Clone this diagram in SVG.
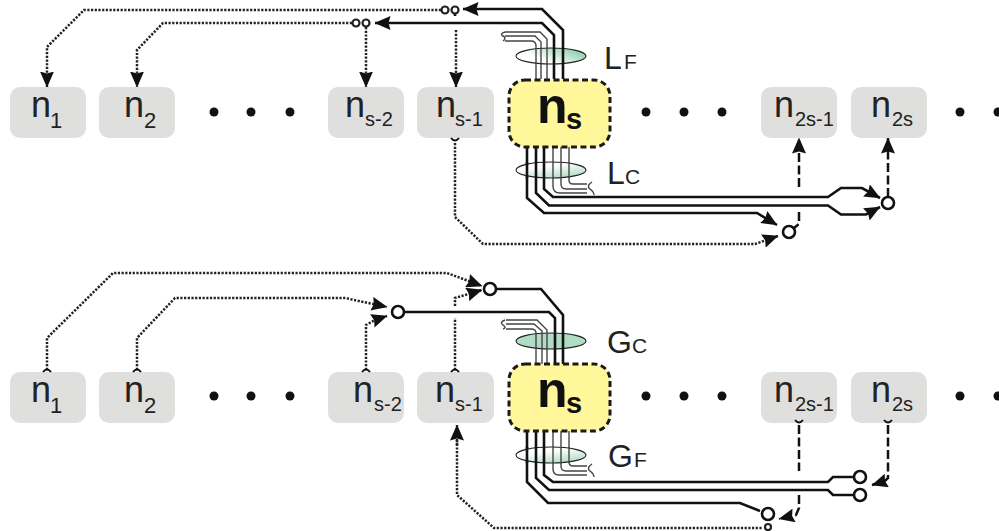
<svg xmlns="http://www.w3.org/2000/svg" width="999" height="531" viewBox="0 0 999 531">
<style>
text{font-family:"Liberation Sans",Arial,sans-serif;fill:#222}
.box{fill:#dfdfdd}
.main{fill:#fff799;stroke:#1a1a1a;stroke-width:3;stroke-dasharray:6 3.5}
.n{font-size:36px}
.s{font-size:22px}
.x{font-size:20px}
.bn{font-size:50px;font-weight:bold;fill:#111}
.bs{font-size:29px;font-weight:bold;fill:#111}
.lab{font-size:32px}
.sub{font-size:21px}
.th{fill:none;stroke:#111;stroke-width:2.600}
.tn{fill:none;stroke:#444;stroke-width:1.400}
.dot{fill:none;stroke:#222;stroke-width:2.500;stroke-dasharray:2.200 1.500}
.dash{fill:none;stroke:#111;stroke-width:2.500;stroke-dasharray:9 3.500}
.c{fill:#fff;stroke:#111;stroke-width:2.600}
.cs{fill:#fff;stroke:#222;stroke-width:2.200}
.e{stroke:#222;stroke-width:1.100}
</style>
<defs>
<linearGradient id="gT" x1="0.1" y1="0.8" x2="0.9" y2="0.3"><stop offset="0.3" stop-color="#fff"/><stop offset="0.95" stop-color="#9fd4bb"/></linearGradient>
<linearGradient id="gB" x1="0.2" y1="0" x2="0.8" y2="1"><stop offset="0.3" stop-color="#fff"/><stop offset="0.95" stop-color="#b0dcc5"/></linearGradient>
<marker id="a" viewBox="0 0 16 14" refX="15.500" refY="7" markerWidth="16" markerHeight="14" markerUnits="userSpaceOnUse" orient="auto"><path d="M0 0L16 7L0 14L2 7Z" fill="#111"/></marker>
<path id="t" d="M-4 3Q0 -2 4 3" fill="none" stroke="#111" stroke-width="2"/>
</defs>

<g id="connectors">
<path class="tn" d="M536 79V46Q536 41 531 41H505M541 79V42L535 36H505M547 79V39L540 32H505"/>
<path class="tn" d="M505 32Q499 34 503 36T503 41"/>
<path class="th" d="M563 79V30L542 9H463" marker-end="url(#a)"/>
<path class="th" d="M554 79V35L542 23H375" marker-end="url(#a)"/>
<path class="dot" d="M441 10H84L47 47V87" marker-end="url(#a)"/>
<path class="dot" d="M352 23H163L137 50V87" marker-end="url(#a)"/>
<path class="dot" d="M366 27V87" marker-end="url(#a)"/>
<path class="dot" d="M456 30V87" marker-end="url(#a)"/>
<path class="th" d="M455 13V16"/>
<path class="th" d="M527 147V198L544 213H757L777 225" marker-end="url(#a)"/>
<path class="th" d="M536 147V193L549 205.500H828L841 214.500H866L880 207" marker-end="url(#a)"/>
<path class="th" d="M544 147V189L553 197H828L841 188H862L880 198" marker-end="url(#a)"/>
<path class="tn" d="M553 147V186Q553 193 560 193H587M561 147V184Q561 189 566 189H587M569 147V180Q569 184 573 184H587"/>
<path class="tn" d="M592 182Q586 186 590 189T594 195"/>
<path class="dot" d="M455 143V217L483 244H755L778 236" marker-end="url(#a)"/>
<path class="dash" d="M799 187V138" marker-end="url(#a)"/>
<path class="dash" d="M799 212V224L794 228"/>
<path class="dash" d="M888 197V138" marker-end="url(#a)"/>
<path class="tn" d="M536 364V333Q536 329 531 329H506M542 364V331L534 324H506M547 364V330L537 320H506"/>
<path class="tn" d="M505 320Q499 322 503 325T503 329"/>
<path class="th" d="M496 289H541L563 315V364"/>
<path class="th" d="M404 312H549L555 318V364"/>
<path class="dot" d="M47 370V338L113 273H447L482 286" marker-end="url(#a)"/>
<path class="dot" d="M137 370V338L175 298H345L387 307" marker-end="url(#a)"/>
<path class="dot" d="M366 370V325L375 320L387 316" marker-end="url(#a)"/>
<path class="dot" d="M455 370V318M455 306V298L482 290" marker-end="url(#a)"/>
<path class="th" d="M527 431V482L548 503H740L760 511"/>
<path class="th" d="M536 431V478L549 490H828L833 495H853"/>
<path class="th" d="M544 431V475L553 482H828L833 477H853"/>
<path class="tn" d="M553 431V469Q553 475 559 475H587M561 431V466Q561 471 566 471H587M569 431V462Q569 466 573 466H587"/>
<path class="tn" d="M592 464Q586 468 590 471T594 477"/>
<path class="dot" d="M457 440V495L494 528H763"/>
<path class="dot" d="M457 445V425" marker-end="url(#a)"/>
<path class="dash" d="M799 425V471M799 495V508L796 515L779 519" marker-end="url(#a)"/>
<path class="dash" d="M888 425V478L885 481L872 485" marker-end="url(#a)"/>
</g>

<g id="LF"><ellipse class="e" cx="551" cy="56" rx="35" ry="8" fill="url(#gT)"/><path class="tn" d="M536 48V64M541 48V64M547 48V64"/><path class="th" d="M554 48V64M563 48V64"/><text class="lab" x="604" y="69">L</text><text class="sub" x="624" y="69">F</text></g>
<g id="LC"><ellipse class="e" cx="551" cy="170" rx="35" ry="8" fill="url(#gB)"/><path class="th" d="M527 162V178M536 162V178M544 162V178"/><path class="tn" d="M553 162V178M561 162V178M569 162V178"/><text class="lab" x="607" y="184">L</text><text class="sub" x="625" y="184">C</text></g>
<g id="GC"><ellipse class="e" cx="551" cy="341" rx="35" ry="8" fill="#b0dcc5"/><path class="tn" d="M536 333V349M542 333V349M547 333V349"/><path class="th" d="M555 333V349M563 333V349"/><text class="lab" x="607" y="353">G</text><text class="sub" x="632" y="353">C</text></g>
<g id="GF"><ellipse class="e" cx="551" cy="455" rx="35" ry="8" fill="url(#gB)"/><path class="th" d="M527 447V463M536 447V463M544 447V463"/><path class="tn" d="M553 447V463M561 447V463M569 447V463"/><text class="lab" x="608" y="467">G</text><text class="sub" x="634" y="467">F</text></g>

<g id="n1"><rect class="box" x="10" y="87" width="76" height="51" rx="10"/><text class="n" x="31" y="117">n</text><text class="s" x="50" y="128">1</text></g>
<g id="n2"><rect class="box" x="99" y="87" width="76" height="51" rx="10"/><text class="n" x="124" y="117">n</text><text class="s" x="144" y="128">2</text></g>
<g id="ns-2"><rect class="box" x="328" y="87" width="76" height="51" rx="10"/><text class="n" x="345" y="117">n</text><text class="x" x="365" y="126">s-2</text></g>
<g id="ns-1"><rect class="box" x="417" y="87" width="77" height="51" rx="10"/><text class="n" x="436" y="117">n</text><text class="x" x="455" y="126">s-1</text></g>
<g id="ns"><rect class="main" x="509" y="80" width="101" height="67" rx="16"/><text class="bn" x="537" y="123">n</text><text class="bs" x="566" y="129">s</text></g>
<g id="n2s-1"><rect class="box" x="761" y="87" width="76" height="51" rx="10"/><text class="n" x="774" y="117">n</text><text class="x" x="795" y="126">2s-1</text></g>
<g id="n2s"><rect class="box" x="851" y="87" width="76" height="51" rx="10"/><text class="n" x="871" y="117">n</text><text class="x" x="892" y="126">2s</text></g>

<g id="n1b"><rect class="box" x="10" y="372" width="76" height="51" rx="10"/><text class="n" x="31" y="402">n</text><text class="s" x="50" y="413">1</text></g>
<g id="n2b"><rect class="box" x="99" y="372" width="76" height="51" rx="10"/><text class="n" x="124" y="402">n</text><text class="s" x="144" y="413">2</text></g>
<g id="ns-2b"><rect class="box" x="328" y="372" width="76" height="51" rx="10"/><text class="n" x="353" y="402">n</text><text class="x" x="374" y="411">s-2</text></g>
<g id="ns-1b"><rect class="box" x="417" y="372" width="77" height="51" rx="10"/><text class="n" x="435" y="402">n</text><text class="x" x="455" y="411">s-1</text></g>
<g id="nsb"><rect class="main" x="509" y="364" width="101" height="67" rx="16"/><text class="bn" x="537" y="407">n</text><text class="bs" x="566" y="413">s</text></g>
<g id="n2s-1b"><rect class="box" x="761" y="372" width="76" height="51" rx="10"/><text class="n" x="774" y="402">n</text><text class="x" x="795" y="411">2s-1</text></g>
<g id="n2sb"><rect class="box" x="851" y="372" width="76" height="51" rx="10"/><text class="n" x="871" y="402">n</text><text class="x" x="892" y="411">2s</text></g>

<g id="tails">
<use href="#t" x="47" y="369"/><use href="#t" x="137" y="369"/><use href="#t" x="366" y="369"/><use href="#t" x="455" y="369"/>
<use href="#t" transform="rotate(180 455 141)" x="455" y="141"/>
<use href="#t" transform="rotate(180 799 423)" x="799" y="423"/>
<use href="#t" transform="rotate(180 888 423)" x="888" y="423"/>
</g>

<g id="circles">
<circle class="cs" cx="445" cy="10" r="3.500"/><circle class="cs" cx="455" cy="10" r="3.500"/>
<circle class="cs" cx="356" cy="23" r="3.500"/><circle class="cs" cx="366" cy="23" r="3.500"/>
<circle class="c" cx="789" cy="232" r="6"/><circle class="c" cx="888" cy="203" r="6"/>
<circle class="c" cx="490" cy="289" r="6"/><circle class="c" cx="398" cy="312" r="6"/>
<circle class="c" cx="860" cy="477" r="6"/><circle class="c" cx="860" cy="495" r="6"/>
<circle class="c" cx="768" cy="514" r="6"/><circle class="cs" cx="768" cy="527" r="3"/>
</g>

<g id="dots" fill="#111">
<circle cx="214" cy="112" r="4.500"/><circle cx="251" cy="112" r="4.500"/><circle cx="290" cy="112" r="4.500"/>
<circle cx="646" cy="112" r="4.500"/><circle cx="684" cy="112" r="4.500"/><circle cx="722" cy="112" r="4.500"/>
<circle cx="960" cy="112" r="4.500"/><circle cx="998" cy="112" r="4.500"/>
<circle cx="214" cy="396" r="4.500"/><circle cx="251" cy="396" r="4.500"/><circle cx="290" cy="396" r="4.500"/>
<circle cx="646" cy="396" r="4.500"/><circle cx="684" cy="396" r="4.500"/><circle cx="722" cy="396" r="4.500"/>
<circle cx="960" cy="396" r="4.500"/><circle cx="998" cy="396" r="4.500"/>
</g>
</svg>
